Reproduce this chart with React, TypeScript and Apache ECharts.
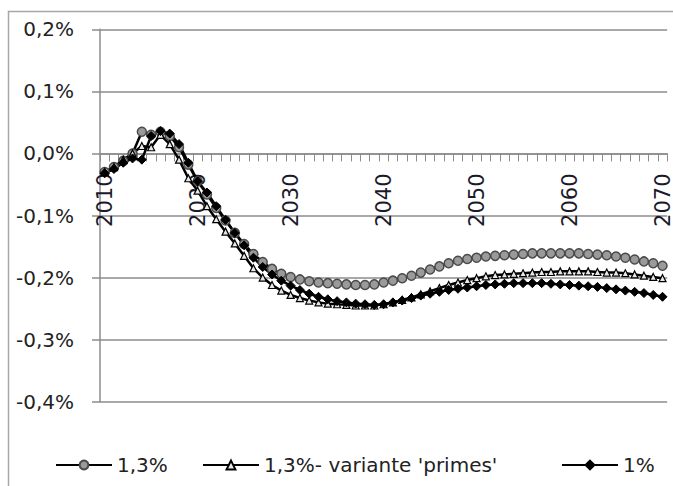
import React, { useEffect, useRef } from "react";
import * as echarts from "echarts";

const years: string[] = Array.from({ length: 61 }, (_, i) => String(2010 + i));

const yTicks = [-0.4, -0.3, -0.2, -0.1, 0, 0.1, 0.2];

const seriesNames = ["1,3%", "1,3%- variante 'primes'", "1%"];

// values in % points
const s13: number[] = [
  -0.030, -0.022, -0.012, 0.000, 0.035, 0.030, 0.035, 0.028, 0.010, -0.018,
  -0.045, -0.066, -0.088, -0.108, -0.128, -0.146, -0.162, -0.175, -0.186, -0.194,
  -0.199, -0.203, -0.206, -0.208, -0.209, -0.210, -0.211, -0.212, -0.212, -0.211,
  -0.208, -0.205, -0.201, -0.197, -0.192, -0.187, -0.182, -0.177, -0.173, -0.170,
  -0.168, -0.166, -0.165, -0.164, -0.163, -0.162, -0.161, -0.161, -0.161, -0.161,
  -0.161, -0.161, -0.162, -0.163, -0.164, -0.166, -0.168, -0.171, -0.174, -0.177,
  -0.181,
];

const s13primes: number[] = [
  -0.030, -0.022, -0.010, 0.000, 0.012, 0.010, 0.030, 0.015, -0.010, -0.040,
  -0.060, -0.085, -0.106, -0.126, -0.145, -0.165, -0.185, -0.200, -0.212, -0.221,
  -0.228, -0.233, -0.237, -0.240, -0.242, -0.243, -0.244, -0.245, -0.245, -0.245,
  -0.243, -0.240, -0.236, -0.232, -0.227, -0.222, -0.217, -0.212, -0.208, -0.204,
  -0.201, -0.198, -0.196, -0.195, -0.194, -0.193, -0.192, -0.191, -0.191, -0.190,
  -0.190, -0.190, -0.190, -0.191, -0.192, -0.192, -0.193, -0.195, -0.197, -0.199,
  -0.201,
];

const s1: number[] = [
  -0.032, -0.025, -0.015, -0.008, -0.010, 0.028, 0.036, 0.032, 0.015, -0.015,
  -0.045, -0.063, -0.085, -0.107, -0.128, -0.148, -0.168, -0.183, -0.195, -0.205,
  -0.213, -0.220, -0.226, -0.231, -0.235, -0.238, -0.240, -0.242, -0.243, -0.244,
  -0.243, -0.240, -0.237, -0.233, -0.229, -0.226, -0.223, -0.220, -0.218, -0.216,
  -0.214, -0.212, -0.211, -0.210, -0.209, -0.209, -0.209, -0.209, -0.210, -0.211,
  -0.212, -0.213, -0.214, -0.215, -0.217, -0.219, -0.221, -0.223, -0.225, -0.228,
  -0.231,
];

const FONT = "DejaVu Sans";
const GRID = "#8c8c8c";
const Y_MIN = yTicks[0];
const Y_MAX = yTicks[yTicks.length - 1];
const GRID_TOP = 29.3;
const GRID_BOTTOM = 84.3;
const CH = 486;

function fmtPct(v: number): string {
  if (Math.abs(v) < 1e-9) return "0,0%";
  return v.toFixed(1).replace(".", ",") + "%";
}

export default function App() {
  const ref = useRef<HTMLDivElement>(null);
  useEffect(() => {
    if (!ref.current) return;
    const chart = echarts.init(ref.current, undefined, { renderer: "svg" });
    const plotH = CH - GRID_TOP - GRID_BOTTOM;
    const zeroY = GRID_TOP + (Y_MAX / (Y_MAX - Y_MIN)) * plotH;
    const bottomY = CH - GRID_BOTTOM;
    const xOffset = -(bottomY - zeroY);
    const legendBase = {
      top: 455,
      padding: 0,
      itemWidth: 56,
      itemHeight: 11,
      itemGap: 5,
      textStyle: { fontFamily: FONT, fontSize: 20, color: "#222" },
    };
    chart.setOption({
      animation: false,
      backgroundColor: "#ffffff",
      graphic: [
        {
          type: "rect",
          shape: { x: 8.5, y: 11.5, width: 700, height: 520 },
          style: { fill: "none", stroke: "#a6a6a6", lineWidth: 1.5 },
          silent: true,
          z: -1,
        },
      ],
      grid: { left: 100, right: 3, top: GRID_TOP, bottom: GRID_BOTTOM, containLabel: false },
      legend: [
        { ...legendBase, left: 55, data: [seriesNames[0]] },
        { ...legendBase, left: 202, data: [seriesNames[1]] },
        { ...legendBase, left: 561, data: [seriesNames[2]] },
      ],
      xAxis: {
        type: "category",
        data: years,
        boundaryGap: true,
        offset: xOffset,
        axisLine: { onZero: false, lineStyle: { color: GRID, width: 1.5 } },
        axisTick: { show: true, interval: 0, length: 8, lineStyle: { color: GRID, width: 1 } },
        axisLabel: {
          interval: 9,
          rotate: 90,
          margin: 20,
          fontFamily: FONT,
          fontSize: 21,
          color: "#1a1a2a",
        },
        splitLine: { show: false },
      },
      yAxis: {
        type: "value",
        min: Y_MIN,
        max: Y_MAX,
        interval: 0.1,
        axisLine: { show: true, lineStyle: { color: GRID, width: 1.5 } },
        axisTick: { show: true, length: 8, lineStyle: { color: GRID, width: 1.5 } },
        axisLabel: {
          margin: 26,
          fontFamily: FONT,
          fontSize: 20,
          color: "#222",
          formatter: (v: number) => fmtPct(v),
        },
        splitLine: { show: true, lineStyle: { color: GRID, width: 1.5 } },
      },
      series: [
        {
          name: seriesNames[0],
          type: "line",
          data: s13,
          showAllSymbol: true,
          symbol: "circle",
          symbolSize: 9,
          lineStyle: { color: "#000", width: 2.5 },
          itemStyle: { color: "#9a9a9a", borderColor: "#4a4a4a", borderWidth: 1.5 },
        },
        {
          name: seriesNames[1],
          type: "line",
          data: s13primes,
          showAllSymbol: true,
          symbol: "triangle",
          symbolSize: 7,
          lineStyle: { color: "#000", width: 2.5 },
          itemStyle: { color: "#e8e8e8", borderColor: "#000", borderWidth: 1.2 },
        },
        {
          name: seriesNames[2],
          type: "line",
          data: s1,
          showAllSymbol: true,
          symbol: "diamond",
          symbolSize: 9,
          lineStyle: { color: "#000", width: 2.5 },
          itemStyle: { color: "#000", borderColor: "#000", borderWidth: 1 },
        },
      ],
    });
    return () => chart.dispose();
  }, []);
  return (
    <div
      ref={ref}
      style={{ position: "fixed", left: 0, top: 0, width: 673, height: 486, background: "#fff" }}
    />
  );
}
